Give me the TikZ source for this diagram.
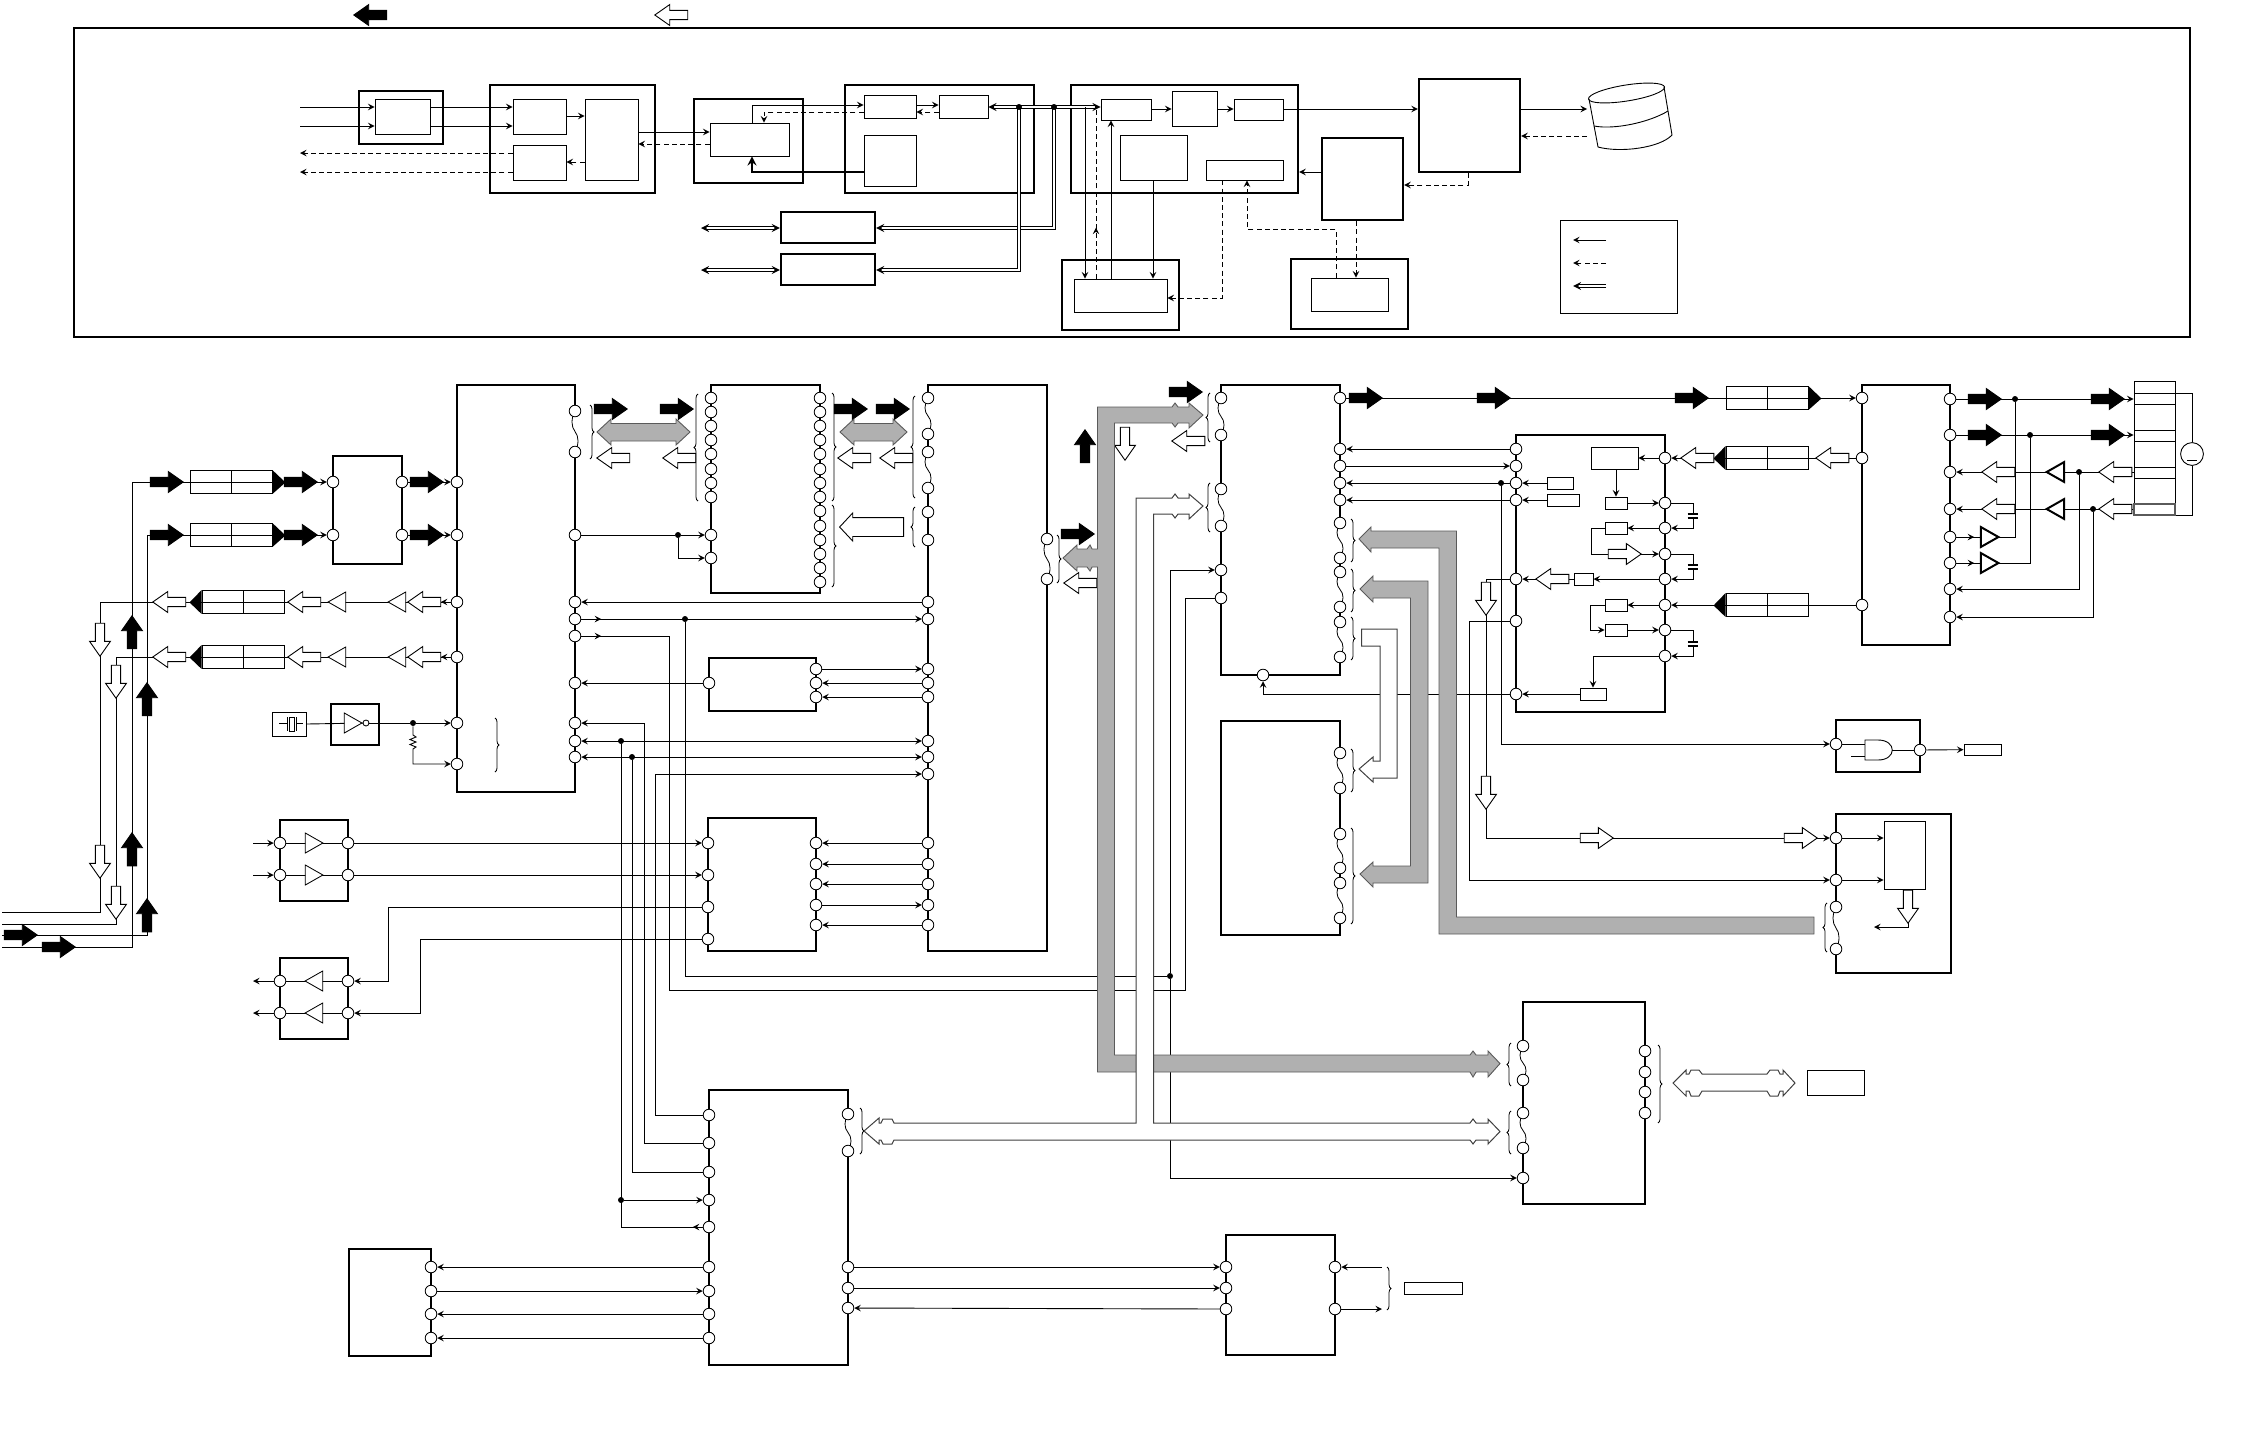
\documentclass[tikz,border=0pt]{standalone}
\usepackage{tikz}
\usetikzlibrary{arrows,fit,shapes.geometric,shapes.arrows,decorations.markings,decorations.pathreplacing}

\definecolor{busgray}{HTML}{B0B0B0}
\definecolor{busedge}{HTML}{5A5A5A}

\tikzset{
  wire/.style={line width=.45pt},
  arrow/.style={wire, ->, >=stealth},
  dashwire/.style={wire, dash pattern=on 2.5pt off 1.6pt},
  dasharrow/.style={dashwire, ->, >=stealth},
  dblwire/.style={double, double distance=.9pt, line width=.5pt, >=stealth},
  midtip/.style={postaction={decorate, decoration={markings, mark=at position #1 with {\arrow{stealth}}}}},
  blk/.style={draw, line width=1.15pt, inner sep=0pt},
  subbox/.style={draw, line width=.45pt, inner sep=0pt},
  pinc/.style={draw, circle, fill=white, line width=.42pt, minimum size=5.8pt, inner sep=0pt},
  jdot/.style={circle, fill=black, minimum size=3pt, inner sep=0pt},
  fat/.style={single arrow, draw, inner xsep=0pt, inner ysep=2.1pt, anchor=tip, line width=.45pt, minimum width=10pt, minimum height=16.5pt, single arrow head extend=2.9pt, single arrow tip angle=70, single arrow head indent=0pt},
  fatv/.style={fat, inner xsep=2.1pt, inner ysep=0pt},
  fatb/.style={fat, fill=black},
  fatw/.style={fat, fill=white},
  fatbv/.style={fatv, fill=black},
  fatwv/.style={fatv, fill=white},
  buf/.style={isosceles triangle, draw, fill=white, inner sep=0pt, anchor=apex, line width=.42pt, isosceles triangle stretches, minimum width=10pt, minimum height=8.8pt},
  bufk/.style={buf, line width=1pt},
  brc/.style={decorate, decoration={brace, amplitude=2pt}, line width=.4pt},
  busg/.style={fill=busgray, draw=busedge, line width=.45pt},
  busw/.style={fill=white, draw=black!75, line width=.5pt},
  filt/.style={subbox, minimum width=41pt, minimum height=11.5pt}
}

\newcommand{\boxat}[6]{\node[#1, fit={(#3,#4) (#5,#6)}] (#2) {};}
\newcommand{\wavy}[3]{
  \draw[white, line width=2.2pt] (#1,#2) -- (#1,#3);
  \draw[line width=.4pt] (#1,#2) .. controls ({#1-4},{#2+(#3-#2)*.18}) and ({#1-4},{#2+(#3-#2)*.38}) .. ({#1},{#2+(#3-#2)*.5}) .. controls ({#1+4},{#2+(#3-#2)*.62}) and ({#1+4},{#2+(#3-#2)*.82}) .. (#1,#3);
}
\newcommand{\filtR}[3]{
  \node[filt] (#1) at (#2,#3) {};
  \draw[wire] (#1.north) -- (#1.south);
  \fill (#1.north east) -- (#1.south east) -- ++(13,-11.5) -- cycle;
}
\newcommand{\filtL}[3]{
  \node[filt] (#1) at (#2,#3) {};
  \draw[wire] (#1.north) -- (#1.south);
  \fill (#1.north west) -- (#1.south west) -- ++(-12,-11.5) -- cycle;
}
\newcommand{\capat}[3]{
  \node[fill=white, minimum width=5pt, minimum height=1.8pt, inner sep=0pt] (#1) at (#2,#3) {};
  \draw[line width=1pt] (#1.north west) -- (#1.north east) (#1.south west) -- (#1.south east);
}

\begin{document}
\begin{tikzpicture}[x=.5pt, y=-.5pt]
\useasboundingbox (0,0) rectangle (2268,1436);

\node[fatb, shape border rotate=180] (keyblack) at (353,15) {};
\node[fatw, shape border rotate=180] (keywhite) at (654,15) {};

% upper frame
\boxat{blk}{frame}{74}{28}{2190}{337}
\boxat{blk}{aOut}{359}{91}{443}{144}
\boxat{subbox}{aIn}{375}{99}{430}{134}
\boxat{blk}{bOut}{490}{85}{655}{193}
\boxat{subbox}{bA}{513}{99}{566}{134}
\boxat{subbox}{bB}{513}{145}{566}{180}
\boxat{subbox}{bC}{585}{99}{638}{180}
\boxat{blk}{cOut}{694}{99}{803}{183}
\boxat{subbox}{cIn}{710}{123}{789}{156}
\boxat{blk}{dOut}{845}{85}{1034}{193}
\boxat{subbox}{dA}{864}{95}{916}{118}
\boxat{subbox}{dB}{939}{95}{988}{118}
\boxat{subbox}{dC}{864}{135}{916}{186}
\boxat{blk}{fA}{781}{212}{875}{243}
\boxat{blk}{fB}{781}{254}{875}{285}
\boxat{blk}{eOut}{1071}{85}{1298}{193}
\boxat{subbox}{eA}{1101}{99}{1151}{120}
\boxat{subbox}{eB}{1172}{91}{1217}{126}
\boxat{subbox}{eC}{1234}{99}{1283}{120}
\boxat{subbox}{eD}{1120}{135}{1187}{180}
\boxat{subbox}{eE}{1206}{160}{1283}{180}
\boxat{blk}{gBox}{1419}{79}{1520}{172}
\boxat{blk}{kBox}{1322}{138}{1403}{220}
\boxat{blk}{lOut}{1062}{260}{1179}{330}
\boxat{subbox}{lIn}{1074}{279}{1167}{312}
\boxat{blk}{mOut}{1291}{259}{1408}{329}
\boxat{subbox}{mIn}{1311}{278}{1388}{311}
\boxat{subbox}{legend}{1560}{220}{1677}{313}

\coordinate (tl1) at (300,107);
\coordinate (tl2) at (300,126);
\coordinate (tl3) at (300,153);
\coordinate (tl4) at (300,172);
\draw[arrow] (tl1) -- (aIn.west |- tl1);
\draw[arrow] (tl2) -- (aIn.west |- tl2);
\draw[arrow] (aIn.east |- tl1) -- (bA.west |- tl1);
\draw[arrow] (aIn.east |- tl2) -- (bA.west |- tl2);
\draw[dasharrow] (bB.west |- tl3) -- (tl3);
\draw[dasharrow] (bB.west |- tl4) -- (tl4);
\draw[arrow] (bA.east |- 0,116) -- (bC.west |- 0,116);
\draw[dasharrow] (bC.west |- 0,162) -- (bB.east |- 0,162);
\draw[arrow] (bC.east |- 0,132) -- (cIn.west |- 0,132);
\draw[dasharrow] (cIn.west |- 0,144) -- (bC.east |- 0,144);
\draw[arrow] (cIn.north -| 752,0) |- (dA.west |- 0,105);
\draw[dasharrow] (dA.west |- 0,112) -| (cIn.north -| 764,0);
\draw[arrow, line width=1pt] (dC.west |- 0,172) -| (cIn.south -| 752,0);
\draw[arrow] (dA.east |- 0,105) -- (dB.west |- 0,105);
\draw[dasharrow] (dB.west |- 0,112) -- (dA.east |- 0,112);
\draw[dblwire, <->] (dB.east |- 0,107) -- (eA.west |- 0,107);
\coordinate (jt1) at (1019,107);
\coordinate (jt2) at (1054,107);
\coordinate (jt3) at (1085,107);
\coordinate (jt4) at (1096,107);
\coordinate (fl1) at (701,228);
\coordinate (fl2) at (701,270);
\draw[dblwire, ->] (jt2) |- (fA.east |- fl1);
\draw[dblwire, ->] (jt1) |- (fB.east |- fl2);
\draw[dblwire, <->] (fA.west |- fl1) -- (fl1);
\draw[dblwire, <->] (fB.west |- fl2) -- (fl2);
\node[jdot] (jt1dot) at (jt1) {};
\node[jdot] (jt2dot) at (jt2) {};
\draw[arrow] (jt3) -- (lIn.north -| jt3);
\draw[dashwire, midtip=25.5pt] (lIn.north -| jt4) -- (jt4);
\draw[arrow] (lIn.north -| 1111,0) -- (eA.south -| 1111,0);
\draw[arrow] (eD.south -| 1153,0) -- (lIn.north -| 1153,0);
\draw[dasharrow] (eE.south -| 1222,0) |- (lIn.east |- 0,298);
\draw[dasharrow] (mIn.north -| 1336,0) -- (1336,229) -| (eE.south -| 1247,0);
\draw[dasharrow] (kBox.south -| 1356,0) -- (mIn.north -| 1356,0);
\draw[arrow] (eA.east |- 0,109) -- (eB.west |- 0,109);
\draw[arrow] (eB.east |- 0,109) -- (eC.west |- 0,109);
\draw[arrow] (eC.east |- 0,109) -- (gBox.west |- 0,109);
\coordinate (cy1) at (1587,109);
\coordinate (cy2) at (1587,136);
\draw[arrow] (gBox.east |- cy1) -- (cy1);
\draw[dasharrow] (cy2) -- (gBox.east |- cy2);
\draw[arrow] (kBox.west |- 0,172) -- (eOut.east |- 0,172);
\draw[dasharrow] (gBox.south -| 1468,0) |- (kBox.east |- 0,185);

\draw[wire, rotate around={9:(1626.5,93)}] (1626.5,93) ellipse (38.5 and 8);
\draw[wire] (1589,99) -- (1598,147) .. controls (1620,153) and (1660,148) .. (1672,135) -- (1664,87);
\draw[wire] (1594,126) .. controls (1615,130) and (1650,122) .. (1668,111);

\coordinate (lg1a) at (1606,240);
\coordinate (lg1b) at (1573,240);
\coordinate (lg2a) at (1606,263);
\coordinate (lg2b) at (1573,263);
\coordinate (lg3a) at (1606,286);
\coordinate (lg3b) at (1573,286);
\draw[arrow] (lg1a) -- (lg1b);
\draw[dasharrow] (lg2a) -- (lg2b);
\draw[dblwire, ->] (lg3a) -- (lg3b);

% lower blocks
\boxat{blk}{qBox}{333}{456}{402}{564}
\boxat{blk}{pBox}{457}{385}{575}{792}
\boxat{blk}{uBox}{711}{385}{820}{593}
\boxat{blk}{vBox}{928}{385}{1047}{951}
\boxat{blk}{hBox}{709}{658}{816}{711}
\boxat{blk}{tBox}{708}{818}{816}{951}
\boxat{blk}{rBox}{280}{820}{348}{901}
\boxat{blk}{sBox}{280}{958}{348}{1039}
\boxat{blk}{invBox}{331}{704}{379}{745}
\boxat{subbox}{xtal}{272}{712}{306}{736}
\boxat{blk}{wBox}{1221}{385}{1340}{675}
\boxat{blk}{dBox}{1221}{721}{1340}{935}
\boxat{blk}{yBox}{1516}{435}{1665}{712}
\boxat{blk}{abBox}{1862}{385}{1950}{645}
\boxat{blk}{andBox}{1836}{720}{1920}{772}
\boxat{blk}{zBox}{1836}{814}{1951}{973}
\boxat{blk}{xBox}{1523}{1002}{1645}{1204}
\boxat{blk}{aeBox}{1226}{1235}{1335}{1355}
\boxat{blk}{afBox}{709}{1090}{848}{1365}
\boxat{blk}{agBox}{349}{1249}{431}{1356}

\boxat{subbox}{yA}{1591}{447}{1638}{469}
\boxat{subbox}{yB}{1547}{477}{1573}{489}
\boxat{subbox}{yC}{1547}{494}{1579}{506}
\boxat{subbox}{yD}{1605}{497}{1627}{509}
\boxat{subbox}{yE}{1605}{522}{1627}{534}
\boxat{subbox}{yF}{1574}{573}{1593}{585}
\boxat{subbox}{yG}{1605}{599}{1627}{611}
\boxat{subbox}{yH}{1605}{624}{1627}{636}
\boxat{subbox}{yI}{1580}{688}{1606}{700}
\boxat{subbox}{zIn}{1884}{821}{1925}{889}
\boxat{subbox}{andOut}{1964}{744}{2001}{755}
\boxat{subbox}{aeOut}{1404}{1282}{1462}{1294}
\boxat{subbox}{xOut}{1807}{1070}{1864}{1095}
\boxat{subbox}{strip}{2134}{381}{2175}{515}

\wavy{575}{411}{452}
\wavy{928}{398}{434}
\wavy{928}{452}{488}
\wavy{1047}{539}{579}
\wavy{1221}{398}{435}
\wavy{1221}{489}{526}
\wavy{1340}{523}{558}
\wavy{1340}{572}{607}
\wavy{1340}{622}{657}
\wavy{1340}{753}{788}
\wavy{1340}{834}{868}
\wavy{1340}{883}{918}
\wavy{1523}{1046}{1080}
\wavy{1523}{1113}{1148}
\wavy{1836}{907}{949}
\wavy{848}{1114}{1151}

\foreach \y in {482,535} {
  \node[pinc] (ql\y) at (333,\y) {};
  \node[pinc] (qr\y) at (402,\y) {};
}
\foreach \y in {482,535,602,657,723,764} \node[pinc] (pl\y) at (457,\y) {};
\foreach \y in {411,452,535,602,619,636,683,723,741,757} \node[pinc] (pr\y) at (575,\y) {};
\foreach \y in {398,412,426,440,454,469,483,497,535,558} \node[pinc] (ul\y) at (711,\y) {};
\foreach \y in {398,412,426,440,454,469,483,497,511,526,540,554,568,582} \node[pinc] (ur\y) at (820,\y) {};
\foreach \y in {398,434,452,488,512,540,602,619,669,683,697,741,757,774,843,864,884,905,925} \node[pinc] (vl\y) at (928,\y) {};
\foreach \y in {539,579} \node[pinc] (vr\y) at (1047,\y) {};
\node[pinc] (hl683) at (709,683) {};
\foreach \y in {669,683,697} \node[pinc] (hr\y) at (816,\y) {};
\foreach \y in {843,875,907,939} \node[pinc] (tl\y) at (708,\y) {};
\foreach \y in {843,864,884,905,925} \node[pinc] (tr\y) at (816,\y) {};
\foreach \y in {843,875} {
  \node[pinc] (rl\y) at (280,\y) {};
  \node[pinc] (rr\y) at (348,\y) {};
}
\foreach \y in {981,1013} {
  \node[pinc] (sl\y) at (280,\y) {};
  \node[pinc] (sr\y) at (348,\y) {};
}
\foreach \y in {398,435,489,526,570,598} \node[pinc] (wl\y) at (1221,\y) {};
\foreach \y in {398,449,466,483,500,523,558,572,607,622,657} \node[pinc] (wr\y) at (1340,\y) {};
\node[pinc] (wb) at (1263,675) {};
\foreach \y in {753,788,834,868,883,918} \node[pinc] (dr\y) at (1340,\y) {};
\foreach \y in {449,466,483,500,579,621,694} \node[pinc] (yl\y) at (1516,\y) {};
\foreach \y in {458,503,528,554,579,605,630,656} \node[pinc] (yr\y) at (1665,\y) {};
\foreach \y in {398,458,605} \node[pinc] (abl\y) at (1862,\y) {};
\foreach \y in {399,435,472,509,537,563,589,617} \node[pinc] (abr\y) at (1950,\y) {};
\node[pinc] (andl) at (1836,744) {};
\node[pinc] (andr) at (1920,750) {};
\foreach \y in {838,880,907,949} \node[pinc] (zl\y) at (1836,\y) {};
\foreach \y in {1046,1080,1113,1148,1178} \node[pinc] (xl\y) at (1523,\y) {};
\foreach \y in {1051,1072,1092,1113} \node[pinc] (xr\y) at (1645,\y) {};
\foreach \y in {1267,1288,1309} \node[pinc] (ael\y) at (1226,\y) {};
\foreach \y in {1267,1309} \node[pinc] (aer\y) at (1335,\y) {};
\foreach \y in {1115,1143,1172,1200,1227,1267,1291,1314,1338} \node[pinc] (afl\y) at (709,\y) {};
\foreach \y in {1114,1151,1267,1288,1308} \node[pinc] (afr\y) at (848,\y) {};
\foreach \y in {1267,1291,1314,1338} \node[pinc] (agr\y) at (431,\y) {};

\node[jdot] (j535) at (678,535) {};
\node[jdot] (j619) at (685,619) {};
\node[jdot] (j741) at (621,741) {};
\node[jdot] (j757) at (632,757) {};
\node[jdot] (jaf) at (621,1200) {};
\node[jdot] (j976) at (1170,976) {};
\node[jdot] (jres) at (413,723) {};
\node[jdot] (j483) at (1501,483) {};
\node[jdot] (j399) at (2015,399) {};
\node[jdot] (j435) at (2030,435) {};
\node[jdot] (j472) at (2079,472) {};
\node[jdot] (j509) at (2093,509) {};

\coordinate (in1) at (2,947);
\coordinate (in2) at (2,935);
\coordinate (out1) at (2,912);
\coordinate (out2) at (2,924);
\draw[arrow] (in1) -| (132,482) -- (ql482);
\draw[arrow] (in2) -| (147,535) -- (ql535);
\draw[wire, midtip=5pt] (pl602) -| (100,912) -- (out1);
\draw[wire, midtip=5pt] (pl657) -| (116,924) -- (out2);
\draw[arrow] (qr482) -- (pl482);
\draw[arrow] (qr535) -- (pl535);

\draw[wire] (xtal.east) -- (366,723);
\draw[arrow] (366,723) -- (jres) -- (pl723);
\draw[arrow] (jres) -- (413,735) -- (416,737) -- (410,739.5) -- (416,742) -- (410,744.5) -- (416,747) -- (413,749) -- (413,764) -- (pl764);

\coordinate (ri1) at (253,843);
\coordinate (ri2) at (253,875);
\coordinate (so1) at (253,981);
\coordinate (so2) at (253,1013);
\draw[arrow] (ri1) -- (rl843);
\draw[arrow] (ri2) -- (rl875);
\draw[wire] (rl843) -- (rr843);
\draw[wire] (rl875) -- (rr875);
\draw[arrow] (rr843) -- (tl843);
\draw[arrow] (rr875) -- (tl875);
\draw[arrow] (sl981) -- (so1);
\draw[arrow] (sl1013) -- (so2);
\draw[wire] (sl981) -- (sr981);
\draw[wire] (sl1013) -- (sr1013);
\draw[arrow] (tl907) -| (388,981) -- (sr981);
\draw[arrow] (tl939) -| (420,1013) -- (sr1013);
\foreach \y in {843,864,884,925} \draw[arrow] (vl\y) -- (tr\y);
\draw[arrow] (tr905) -- (vl905);

\draw[arrow] (pr535) -- (j535) -- (ul535);
\draw[arrow] (j535) |- (ul558);
\draw[arrow] (vl602) -- (pr602);
\draw[arrow, midtip=10pt] (pr619) -- (vl619);
\draw[wire, midtip=10pt] (pr636) -| (669,990) -| (1185,598) -- (wl598);
\draw[wire] (j619) |- (j976);
\draw[arrow] (j976) |- (wl570);
\draw[arrow] (j976) |- (xl1178);
\draw[arrow] (hl683) -- (pr683);
\draw[arrow] (hr669) -- (vl669);
\draw[arrow] (vl683) -- (hr683);
\draw[arrow] (vl697) -- (hr697);
\draw[arrow] (afl1143) -| (644,723) -- (pr723);
\draw[arrow, <->] (pr741) -- (vl741);
\draw[arrow, <->] (pr757) -- (vl757);
\draw[arrow] (afl1115) -| (655,774) -- (vl774);
\draw[wire, midtip=5pt] (afl1227) -| (j741);
\draw[wire] (j757) |- (afl1172);
\draw[arrow] (jaf) -- (afl1200);
\foreach \y in {1267,1314,1338} \draw[arrow] (afl\y) -- (agr\y);
\draw[arrow] (agr1291) -- (afl1291);
\draw[arrow] (afr1267) -- (ael1267);
\draw[arrow] (afr1288) -- (ael1288);
\draw[arrow] (ael1309) -- (afr1308);

\coordinate (aeb1) at (1382,1267);
\coordinate (aeb2) at (1382,1309);
\draw[arrow] (aeb1) -- (aer1267);
\draw[arrow] (aer1309) -- (aeb2);

\draw[arrow] (yl449) -- (wr449);
\draw[arrow] (wr466) -- (yl466);
\draw[arrow] (yl483) -- (wr483);
\draw[arrow] (yl500) -- (wr500);
\draw[arrow] (j483) |- (andl);
\draw[arrow] (yl579) -| (1486,838) -- (zl838);
\draw[arrow] (yl621) -| (1469,880) -- (zl880);
\draw[arrow] (yl694) -| (wb);

\draw[arrow] (yr458) -- (yA);
\draw[arrow] (yA.south -| yD) -- (yD);
\draw[arrow] (yD) -- (yr503);
\draw[arrow] (yB) -- (yl483);
\draw[arrow] (yC) -- (yl500);
\draw[arrow] (yr528) -- (yE);
\draw[arrow] (yE.west) -| (1591,554) -- (yr554);
\draw[arrow] (yr579) -- (yF);
\draw[arrow] (yF) -- (yl579);
\draw[arrow] (yr605) -- (yG);
\draw[arrow] (yG.west) -| (1590,630) -- (yH);
\draw[arrow] (yH) -- (yr630);
\draw[arrow] (yr656) -| (yI.north);
\draw[arrow] (yI) -- (yl694);
\draw[arrow] (yr503) -| (1693,528) -- (yr528);
\draw[arrow] (yr554) -| (1693,579) -- (yr579);
\draw[arrow] (yr630) -| (1693,656) -- (yr656);
\capat{capA}{1693}{516}
\capat{capB}{1693}{567}
\capat{capC}{1693}{644}

\draw[arrow] (wr398) -- (abl398);
\draw[arrow] (abl458) -- (yr458);
\draw[arrow] (abl605) -- (yr605);
\draw[arrow] (abr399) -- (strip.west |- abr399);
\draw[arrow] (abr435) -- (strip.west |- abr435);
\draw[arrow] (strip.west |- abr472) -- (abr472);
\draw[arrow] (strip.west |- abr509) -- (abr509);
\draw[wire, midtip=9pt] (abr537) -| (j399);
\draw[wire, midtip=9pt] (abr563) -| (j435);
\draw[arrow] (j472) |- (abr589);
\draw[arrow] (j509) |- (abr617);

\foreach \y in {393,404,430,441,467,478,504} \draw[wire] (2134,\y) -- (2175,\y);
\node[draw, circle, line width=.45pt, minimum size=11.4pt, inner sep=0pt] (src) at (2192,454) {};
\draw[line width=.5pt] (2187,460) -- (2197,460);
\draw[wire] (strip.east |- 0,393) -| (src.north);
\draw[wire] (src.south) |- (strip.east |- 0,515);
\draw[busedge, line width=.8pt] (2134,504) rectangle (2175,515);

\coordinate (gi1) at (1865,744);
\coordinate (gi2) at (1865,756);
\coordinate (gi3) at (1851,756);
\coordinate (go) at (1892,750);
\draw[wire] (andl) -- (gi1);
\draw[wire] (gi3) -- (gi2);
\draw[wire] (go) -- (andr);
\draw[wire] (1865,740) -- (1878,740) .. controls (1897,740) and (1897,760) .. (1878,760) -- (1865,760) -- cycle;
\draw[arrow] (andr) -- (andOut);
\draw[arrow] (zl838) -- (zIn.west |- zl838);
\draw[arrow] (zl880) -- (zIn.west |- zl880);
\coordinate (zOut) at (1874,927);
\draw[arrow] (zIn.south -| 1908,0) |- (zOut);

% filters and buffers
\filtR{fi1}{231}{482}
\filtR{fi2}{231}{535}
\filtL{fo1}{243}{602}
\filtL{fo2}{243}{657}
\filtR{fiw}{1767}{398}
\filtL{foa}{1767}{458}
\filtL{fob}{1767}{605}
\foreach \y in {602,657} {
  \node[buf, shape border rotate=180] (ba\y) at (327,\y) {};
  \node[buf, shape border rotate=180] (bb\y) at (387,\y) {};
}
\foreach \y in {843,875} \node[buf] (br\y) at (324,\y) {};
\foreach \y in {981,1013} \node[buf, shape border rotate=180] (bs\y) at (304,\y) {};
\foreach \y in {472,509} \node[bufk, shape border rotate=180] (bc\y) at (2044,\y) {};
\foreach \y in {537,563} \node[bufk] (bd\y) at (2001,\y) {};
\node[buf] (binv) at (363,723) {};
\node[pinc, minimum size=3pt] (bub) at (366,723) {};

\draw[wire] (279,723) -- (287,723) (296,723) -- (303,723);
\draw[wire] (287,717) -- (287,731) (296,717) -- (296,731);
\draw[wire, fill=white] (289,717) rectangle (294,731);

% fat arrows
\foreach \n/\x/\y in {a1/184/482,a2/318/482,a3/444/482,a4/184/535,a5/318/535,a6/444/535,a7/628/409,a8/694/409,a9/868/409,a10/910/409,a11/1095/534,a12/1203/392,a13/1383/398,a14/1511/398,a15/1709/398,a16/2002/399,a17/2125/399,a18/2002/435,a19/2125/435,a20/38/935,a21/76/947}
  \node[fatb] (\n) at (\x,\y) {};
\foreach \n/\x/\y in {u1/132/615,u2/147/682,u3/132/832,u4/147/898,u5/1085/429}
  \node[fatbv, shape border rotate=90] (\n) at (\x,\y) {};
\foreach \n/\x/\y in {l1/152/602,l2/287/602,l3/407/602,l4/152/657,l5/287/657,l6/407/657,l7/596/458,l8/662/458,l9/837/458,l10/879/458,l11/1063/583,l12/1171/441,l13/1680/458,l14/1815/458,l15/1535/579,l16/1981/472,l17/2098/472,l18/1981/509,l19/2098/509}
  \node[fatw, shape border rotate=180] (\n) at (\x,\y) {};
\foreach \n/\x/\y in {d1/1125/461,d2/100/657,d3/116/699,d4/100/879,d5/116/920,d6/1486/616,d7/1486/810,d8/1908/924}
  \node[fatwv, shape border rotate=270] (\n) at (\x,\y) {};
\foreach \n/\x/\y in {r1/1642/554,r2/1614/838,r3/1818/838}
  \node[fatw] (\n) at (\x,\y) {};
\node[fatw, minimum width=13.5pt, minimum height=32pt, inner ysep=4.5pt, single arrow head extend=2.3pt, single arrow tip angle=94, shape border rotate=180] (bigl) at (839,527) {};

% braces
\foreach \x/\a/\b in {590/405/459,832/393/501,832/505/587,1057/535/583,1351/519/562,1351/569/612,1351/617/660,1351/749/792,1351/828/924,1658/1045/1123,860/1108/1154,1387/1267/1310,495/718/772}
  \draw[brc] (\x,\a) -- (\x,\b);
\foreach \x/\a/\b in {698/394/501,915/396/498,915/507/547,1210/393/442,1210/483/532,1511/1043/1086,1511/1111/1154,1827/903/952}
  \draw[brc] (\x,\b) -- (\x,\a);

% buses
\draw[busg] (597,432) -- (611,419) -- (611,423.5) -- (676,423.5) -- (676,419) -- (690,432) -- (676,445) -- (676,441) -- (611,441) -- (611,445) -- cycle;
\draw[busg] (840,432) -- (854,419) -- (854,423.5) -- (893,423.5) -- (893,419) -- (907,432) -- (893,445) -- (893,441) -- (854,441) -- (854,445) -- cycle;
\draw[busg] (1097.5,407) -- (1172,407) -- (1175,403) -- (1178,407) -- (1189,407) -- (1189,403) -- (1203,415) -- (1189,428) -- (1189,423) -- (1178,423) -- (1175,427) -- (1172,423) -- (1114.5,423) -- (1114.5,1055) -- (1470,1055) -- (1473,1051) -- (1476,1055) -- (1488,1055) -- (1488,1051) -- (1500,1063.5) -- (1488,1077) -- (1488,1072) -- (1476,1072) -- (1473,1077) -- (1470,1072) -- (1097.5,1072) -- (1097.5,567) -- (1092,567) -- (1090,571) -- (1087,567) -- (1077,567) -- (1077,571) -- (1063,558) -- (1077,545) -- (1077,549) -- (1087,549) -- (1090,545) -- (1092,549) -- (1097.5,549) -- cycle;
\draw[busg] (1359,539) -- (1371,527) -- (1371,531) -- (1456.5,531) -- (1456.5,917) -- (1814,917) -- (1814,934) -- (1439,934) -- (1439,548) -- (1371,548) -- (1371,552) -- cycle;
\draw[busg] (1360,589) -- (1373,576) -- (1373,581) -- (1428,581) -- (1428,883) -- (1373,883) -- (1373,887) -- (1360,874) -- (1373,862) -- (1373,866) -- (1410.5,866) -- (1410.5,598) -- (1373,598) -- (1373,602) -- cycle;
\draw[busw] (1361.5,629) -- (1397,629) -- (1397,778) -- (1373,778) -- (1373,782) -- (1359,769) -- (1373,757) -- (1373,761) -- (1380,761) -- (1380,646) -- (1361.5,646) -- cycle;
\draw[busw] (864,1131) -- (879,1118) -- (879,1123) -- (881,1123) -- (883,1119) -- (892,1119) -- (894,1123) -- (1136,1123) -- (1136,498) -- (1172,498) -- (1175,494) -- (1178,498) -- (1189,498) -- (1189,494) -- (1203,506) -- (1189,519) -- (1189,514) -- (1178,514) -- (1175,518) -- (1172,514) -- (1153.5,514) -- (1153.5,1123) -- (1470,1123) -- (1473,1119) -- (1476,1123) -- (1488,1123) -- (1488,1119) -- (1500,1131.5) -- (1488,1144) -- (1488,1140) -- (1476,1140) -- (1473,1144) -- (1470,1140) -- (894,1140) -- (892,1144) -- (883,1144) -- (881,1140) -- (879,1140) -- (879,1144) -- cycle;
\draw[busw] (1673,1083) -- (1686,1070) -- (1686,1074) -- (1689,1074) -- (1691,1070) -- (1699,1070) -- (1702,1074) -- (1767,1074) -- (1770,1070) -- (1778,1070) -- (1780,1074) -- (1783,1074) -- (1783,1070) -- (1795,1083) -- (1783,1096) -- (1783,1091) -- (1780,1091) -- (1778,1096) -- (1770,1096) -- (1767,1091) -- (1702,1091) -- (1699,1096) -- (1691,1096) -- (1689,1091) -- (1686,1091) -- (1686,1096) -- cycle;
\end{tikzpicture}
\end{document}
